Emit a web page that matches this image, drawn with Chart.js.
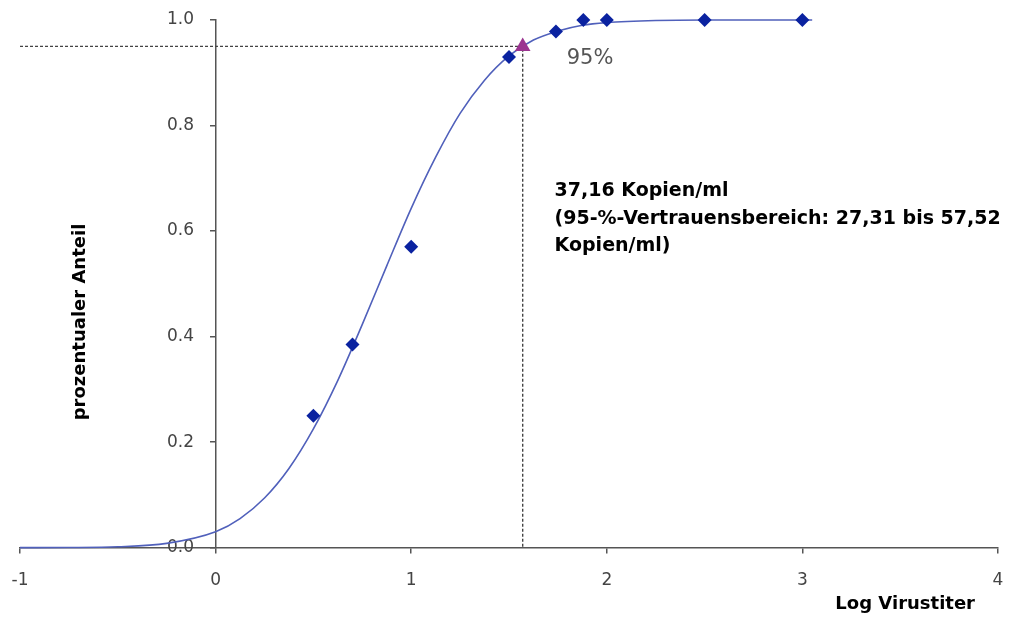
<!DOCTYPE html>
<html>
<head>
<meta charset="utf-8">
<script src="https://cdn.jsdelivr.net/npm/chart.js@4/dist/chart.umd.min.js"></script>
<style>
  body { margin: 0; background: #fff; }
  #wrap { width: 1009px; height: 617px; }
</style>
</head>
<body>
<div id="wrap"><canvas id="probitChart" width="1009" height="617"></canvas></div>
<script>
// fitted curve
const curveX = [-1, -0.75, -0.5, -0.25, 0, 0.125, 0.25, 0.375, 0.5, 0.625, 0.75, 0.875, 1.0, 1.125, 1.25, 1.375, 1.5, 1.625, 1.75, 1.875, 2.0, 2.25, 2.5, 3.05];
const curveY = [0, 0.0002, 0.0015, 0.008, 0.030, 0.055, 0.094, 0.15, 0.225, 0.317, 0.423, 0.534, 0.643, 0.74, 0.823, 0.886, 0.932, 0.962, 0.979, 0.99, 0.995, 0.999, 1.0, 1.0];

// measured hit rates
const hitX = [0.5, 0.7, 1.0, 1.5, 1.74, 1.88, 2.0, 2.5, 3.0];
const hitY = [0.25, 0.385, 0.57, 0.93, 0.978, 1.0, 1.0, 1.0, 1.0];

// 95% detection point
const lodX = [1.57];
const lodY = [0.95];

// guide lines to the 95% point
const guideX = [-1, 1.57, 1.57];
const guideY = [0.95, 0.95, 0];

const xTicks = [-1, 0, 1, 2, 3, 4];
const yTicks = [0, 0.2, 0.4, 0.6, 0.8, 1.0];

const toPoints = (xs, ys) => xs.map((x, i) => ({ x: x, y: ys[i] }));

// keine automatische Randreserve für Achsenbeschriftungen
function noPadding(scale) {
    scale.paddingLeft = 0;
    scale.paddingRight = 0;
    scale.paddingTop = 0;
    scale.paddingBottom = 0;
}

// Beschriftungen (Achsentitel und Ergebnis-Text)
const textPlugin = {
    id: 'texte',
    afterDraw(chart) {
        const ctx = chart.ctx;
        const xs = chart.scales.x;
        const ys = chart.scales.y;
        ctx.save();
        ctx.textBaseline = 'middle';

        // 95%-Label
        ctx.fillStyle = '#555';
        ctx.font = '21px "DejaVu Sans"';
        ctx.textAlign = 'left';
        ctx.fillText('95%', xs.getPixelForValue(1.795), ys.getPixelForValue(0.927));

        // Ergebnis
        ctx.fillStyle = '#000';
        ctx.font = 'bold 19px "DejaVu Sans"';
        const tx = xs.getPixelForValue(1.733);
        ctx.fillText('37,16 Kopien/ml', tx, ys.getPixelForValue(0.675));
        ctx.fillText('(95-%-Vertrauensbereich: 27,31 bis 57,52', tx, ys.getPixelForValue(0.623));
        ctx.fillText('Kopien/ml)', tx, ys.getPixelForValue(0.571));

        // Achsentitel
        ctx.font = 'bold 18px "DejaVu Sans"';
        ctx.textAlign = 'right';
        ctx.fillText('Log Virustiter', 975, 604);

        ctx.translate(80, 322);
        ctx.rotate(-Math.PI / 2);
        ctx.textAlign = 'center';
        ctx.fillText('prozentualer Anteil', 0, 0);
        ctx.restore();
    }
};

const ctx = document.getElementById('probitChart').getContext('2d');
new Chart(ctx, {
    type: 'scatter',
    data: {
        datasets: [
            {
                label: 'Messwerte',
                data: toPoints(hitX, hitY),
                pointStyle: 'rectRot',
                pointRadius: 7,
                backgroundColor: '#0a22a0',
                borderColor: '#0a22a0',
                borderWidth: 0,
                clip: false,
                order: 0
            },
            {
                label: '95%',
                data: toPoints(lodX, lodY),
                pointStyle: 'triangle',
                pointRadius: 9,
                backgroundColor: '#9b3590',
                borderColor: '#9b3590',
                borderWidth: 0,
                clip: false,
                order: 0
            },
            {
                label: 'Probit',
                type: 'line',
                data: toPoints(curveX, curveY),
                borderColor: '#5060bb',
                borderWidth: 1.6,
                pointRadius: 0,
                cubicInterpolationMode: 'monotone',
                fill: false,
                clip: false,
                order: 2
            },
            {
                label: 'Hilfslinien',
                type: 'line',
                data: toPoints(guideX, guideY),
                borderColor: '#444',
                borderWidth: 1.4,
                borderDash: [3, 2],
                pointRadius: 0,
                tension: 0,
                fill: false,
                order: 3
            }
        ]
    },
    options: {
        responsive: false,
        animation: false,
        layout: {
            padding: { left: 20, right: 11, top: 20, bottom: 9 }
        },
        plugins: {
            legend: { display: false },
            tooltip: { enabled: false }
        },
        scales: {
            x: {
                type: 'linear',
                position: 'bottom',
                min: -1,
                max: 4,
                afterBuildTicks: scale => { scale.ticks = xTicks.map(v => ({ value: v })); },
                afterFit: noPadding,
                grid: { drawOnChartArea: false, tickLength: 6, color: '#555', lineWidth: 1.5 },
                border: { display: true, color: '#555', width: 1.5 },
                ticks: { color: '#444', padding: 17, font: { family: 'DejaVu Sans', size: 17 } }
            },
            y: {
                type: 'linear',
                position: { x: 0 },
                min: 0,
                max: 1,
                afterBuildTicks: scale => { scale.ticks = yTicks.map(v => ({ value: v })); },
                afterFit: noPadding,
                grid: { drawOnChartArea: false, tickLength: 5, color: '#555', lineWidth: 1.5 },
                border: { display: true, color: '#555', width: 1.5 },
                ticks: {
                    color: '#444',
                    font: { family: 'DejaVu Sans', size: 17 },
                    // labels sit right at the crossing axis, figure spaces push them left
                    callback: v => v.toFixed(1) + '\u2007\u2007'
                }
            }
        }
    },
    plugins: [textPlugin]
});
</script>
</body>
</html>
